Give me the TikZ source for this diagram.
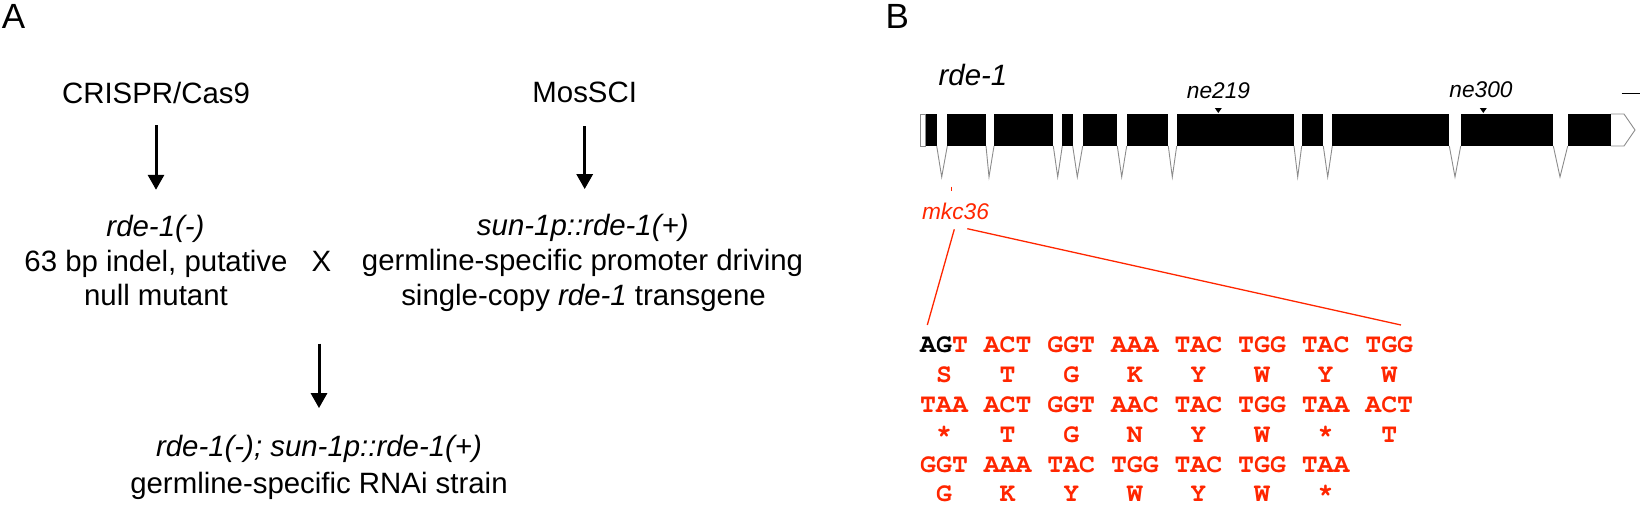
\documentclass[tikz,border=0pt]{standalone}
\usepackage{fontspec}
\setmainfont{Liberation Sans}
\newfontfamily\seqfont{texgyrecursor-bold}[Extension=.otf]
\usetikzlibrary{arrows.meta}
\definecolor{mutred}{RGB}{255,38,0}
\definecolor{introngray}{RGB}{140,140,140}
\tikzset{
  txt/.style={inner sep=0pt, font=\fontsize{29.4}{34}\selectfont, text height=21pt, text depth=6pt},
  gen/.style={txt, font=\fontsize{29.4}{34}\selectfont\itshape},
  allele/.style={inner sep=0pt, font=\fontsize{22.7}{26}\selectfont\itshape},
  panel/.style={inner sep=0pt, font=\fontsize{35}{40}\selectfont, anchor=base west},
  codon/.style={inner sep=0pt, text=mutred, font=\seqfont\fontsize{26.5}{30}\selectfont,
                text height=17pt, text depth=0pt, anchor=base west},
  arr/.style={line width=3pt, -{Triangle[width=16pt,length=15pt]}},
  intron/.style={introngray, line width=0.9pt, line join=miter},
  zoomline/.style={mutred, line width=1.3pt}
}
\begin{document}
\begin{tikzpicture}[x=1pt, y=-1pt]
    \useasboundingbox (0,0) rectangle (1642,504);

    % --- PANEL A: crossing scheme ---
    \node[panel] (labA) at (1.7,28) {A};
    \node[txt, anchor=base] (crispr) at (156,103) {CRISPR/Cas9};
    \node[txt, anchor=base] (mossci) at (584.7,102.7) {MosSCI};

    \node[gen, anchor=base] (rdeminus) at (155.5,236.7) {rde-1(-)};
    \node[txt, anchor=base] (indel) at (156,271) {63 bp indel, putative};
    \node[txt, anchor=base] (null) at (156,305) {null mutant};

    \node[txt, anchor=base] (cross) at (321.5,271) {X};

    \node[gen, anchor=base] (sunp) at (582.8,235) {sun-1p::rde-1(+)};
    \node[txt, anchor=base] (promoter) at (582.5,270) {germline-specific promoter driving};
    \node[txt, anchor=base] (copy) at (583.5,305) {single-copy \textit{rde-1} transgene};

    \node[gen, anchor=base] (combo) at (319,456.7) {rde-1(-); sun-1p::rde-1(+)};
    \node[txt, anchor=base] (strain) at (319,493.3) {germline-specific RNAi strain};

    \draw[arr, shorten <=16pt, shorten >=25.7pt] (crispr.south) -- (crispr.south |- rdeminus.north);
    \draw[arr, shorten <=17.3pt, shorten >=24.7pt] (mossci.south) -- (mossci.south |- sunp.north);
    \draw[arr, shorten <=66.3pt, shorten >=27.4pt] (combo.north |- cross.south) -- (combo.north);

    % --- PANEL B: gene model ---
    \node[panel] (labB) at (885.5,28) {B};
    \node[gen, anchor=base west] (gene) at (938.5,85) {rde-1};
    \node[allele, anchor=base] (ne219) at (1218.5,98) {ne219};
    \node[allele, anchor=base] (ne300) at (1481,97.5) {ne300};
    \draw[line width=1.5pt] (1621.7,93.3) -- (1640,93.3); % scale bar

    % UTRs
    \draw[intron] (920,114) rectangle (925.7,146);
    \draw[intron] (1610.7,114) -- (1624,114) -- (1635,130) -- (1624,146) -- (1610.7,146);

    % exons
    \foreach \a/\b in {925.7/936.7, 947.3/986, 994/1053.3, 1062.3/1072.7, 1082.7/1117.3,
                       1126.7/1168.3, 1176.7/1294, 1301.7/1323.3, 1332.3/1449.3,
                       1460.7/1553.3, 1567.7/1610.7}
        \fill (\a,114) rectangle (\b,146);

    % introns
    \foreach \a/\m/\b in {936.7/941.7/947.3, 986/989/994, 1053.3/1057.7/1062.3,
                          1072.7/1077.3/1082.7, 1117.3/1121.7/1126.7, 1168.3/1172.3/1176.7,
                          1294/1297.7/1301.7, 1323.3/1327.7/1332.3, 1449.3/1455/1460.7,
                          1553.3/1560/1567.7}
        \draw[intron] (\a,146) -- (\m,177) -- (\b,146);

    % allele markers
    \foreach \p in {1218.3,1483.3}
        \fill (\p,113) -- ++(-3.5,-5) -- ++(7,0) -- cycle;

    % mkc36 allele and zoom
    \draw[mutred, line width=0.8pt] (951.7,186.7) -- (951.7,190.7);
    \node[allele, anchor=base, text=mutred] (mkc) at (955.5,219) {mkc36};
    \coordinate (seqL) at (927.3,325);
    \coordinate (seqR) at (1401,325);
    \draw[zoomline] ([shift={(-1.2,10.3)}]mkc.base) -- (seqL);
    \draw[zoomline] ([shift={(11.8,9.7)}]mkc.base) -- (seqR);

    % sequence
    \foreach \yy/\row [count=\i] in {
        352.8/{\textcolor{black}{AG}T ACT GGT AAA TAC TGG TAC TGG},
        382.6/{~S~~~T~~~G~~~K~~~Y~~~W~~~Y~~~W},
        412.4/{TAA ACT GGT AAC TAC TGG TAA ACT},
        442.2/{~*~~~T~~~G~~~N~~~Y~~~W~~~*~~~T},
        472/{GGT AAA TAC TGG TAC TGG TAA},
        501.8/{~G~~~K~~~Y~~~W~~~Y~~~W~~~*}}
        \node[codon] (row\i) at (920,\yy) {\row};
\end{tikzpicture}
\end{document}
